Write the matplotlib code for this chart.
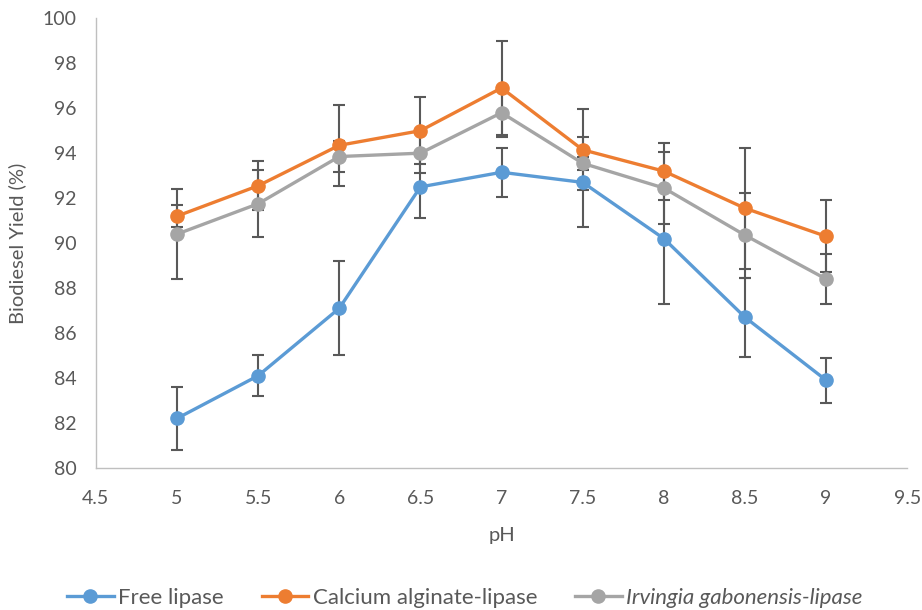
import numpy as np
import matplotlib as mpl
import matplotlib.pyplot as plt

mpl.rcParams['font.family'] = ['Lato', 'DejaVu Sans']

ph = [5, 5.5, 6, 6.5, 7, 7.5, 8, 8.5, 9]

free_yield = [82.2, 84.1, 87.1, 92.5, 93.15, 92.7, 90.2, 86.7, 83.9]
free_err = [1.4, 0.9, 2.1, 1.4, 1.1, 2.0, 2.9, 1.75, 1.0]

calcium_yield = [91.2, 92.55, 94.35, 95.0, 96.9, 94.15, 93.2, 91.55, 90.3]
calcium_err = [0.5, 1.1, 1.8, 1.5, 2.1, 1.8, 1.27, 2.7, 1.6]

irvingia_yield = [90.4, 91.75, 93.85, 94.0, 95.8, 93.55, 92.45, 90.35, 88.4]
irvingia_err = [2.0, 1.5, 0.7, 0.9, 1.1, 0.3, 1.6, 1.9, 1.1]

series = [
    ("Free lipase", free_yield, free_err, "#5B9BD5", "normal"),
    ("Calcium alginate-lipase", calcium_yield, calcium_err, "#ED7D31", "normal"),
    ("Irvingia gabonensis-lipase", irvingia_yield, irvingia_err, "#A5A5A5", "italic"),
]

text_col = "#595959"

fig = plt.figure(figsize=(9.22, 6.10), dpi=100)
ax = fig.add_axes([0.104, 0.233, 0.88, 0.737])

handles = []
for name, vals, err, col, style in series:
    ax.errorbar(ph, vals, yerr=err, fmt='none', ecolor="#595959", elinewidth=1.5,
                capsize=4, capthick=1.5, zorder=2)
    h, = ax.plot(ph, vals, color=col, lw=2.4, marker='o', markersize=9.5, label=name, zorder=3)
    handles.append(h)

ax.set_xlim(4.5, 9.5)
ax.set_ylim(80, 100)
ax.set_xticks(np.arange(4.5, 9.51, 0.5))
ax.set_xticklabels(["4.5", "5", "5.5", "6", "6.5", "7", "7.5", "8", "8.5", "9", "9.5"])
ax.set_yticks(np.arange(80, 100.1, 2))
ax.tick_params(length=0, labelsize=14, colors=text_col)
ax.tick_params(axis='y', pad=14)
ax.tick_params(axis='x', pad=16)

for s in ['top', 'right']:
    ax.spines[s].set_visible(False)
for s in ['left', 'bottom']:
    ax.spines[s].set_color("#BFBFBF")
    ax.spines[s].set_linewidth(1.0)

ax.set_xlabel("pH", fontsize=14.5, color=text_col, labelpad=14)
ax.set_ylabel("Biodiesel Yield (%)", fontsize=14.5, color=text_col, labelpad=12)

leg = fig.legend(handles=handles, loc='center', bbox_to_anchor=(0.504, 0.02), ncol=3,
                 frameon=False, fontsize=16, handlelength=2.1, handletextpad=0.2,
                 columnspacing=1.7)
for t, (_, _, _, _, style) in zip(leg.get_texts(), series):
    t.set_color(text_col)
    t.set_style(style)

fig.savefig("out.png", dpi=100)
